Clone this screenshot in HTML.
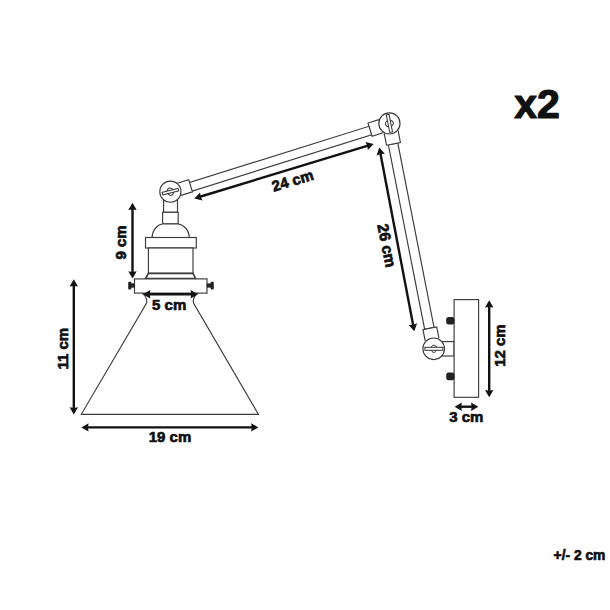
<!DOCTYPE html>
<html><head><meta charset="utf-8">
<style>
html,body{margin:0;padding:0;background:#fff;width:610px;height:610px;overflow:hidden}
svg{display:block}
text{font-family:"Liberation Sans",sans-serif;font-weight:bold;fill:#111;stroke:#111;stroke-width:0.7px;stroke-linejoin:round}
</style></head>
<body>
<svg width="610" height="610" viewBox="0 0 610 610">
<defs>
<marker id="ah" viewBox="0 0 10 10" refX="9.5" refY="5" markerWidth="8" markerHeight="9" markerUnits="userSpaceOnUse" orient="auto-start-reverse">
<path d="M0,0 L10,5 L0,10 Z" fill="#111"/>
</marker>
</defs>
<rect width="610" height="610" fill="#fff"/>

<!-- ===== drawing lines ===== -->
<g fill="#fff" stroke="#3a3a3a" stroke-width="1.15">
  <!-- upper arm (A -> B) -->
  <g transform="translate(170.5,191.8) rotate(-17.39)">
    <rect x="20.5" y="-3.2" width="189" height="9"/>
    <path d="M9,-6.2 L21,-6.2 L21,6.6 L9,6.6"/>
    <path d="M220.5,-6.6 L209,-6.6 L209,7.2 L220.5,7.2"/>
  </g>
  <!-- vertical arm (B -> C) -->
  <g transform="translate(389.5,123.2) rotate(78.87)">
    <rect x="21" y="-4.3" width="188" height="9.6"/>
    <path d="M9,-7 L21,-7 L21,7.2 L9,7.2"/>
    <path d="M220.5,-7 L209,-7 L209,7 L220.5,7"/>
  </g>
  <!-- socket -->
  <rect x="163.6" y="200" width="13.9" height="12.3"/>
  <rect x="162.6" y="212.3" width="15.6" height="11.7"/>
  <path d="M152.1,237.7 C152.5,229 158,224.5 163,223.8 L177.5,223.8 C183,224.5 189,229 189.3,237.7 Z"/>
  <rect x="145.5" y="237.5" width="50.8" height="10.5"/>
  <rect x="148.4" y="248" width="44.6" height="25.4"/>
  <path d="M148.4,273.4 L193,273.4 L195.5,278.5 L145.5,278.5 Z" stroke-width="1.6"/>
  <rect x="134.5" y="278.9" width="72.5" height="14.2"/>
  <!-- shade -->
  <path d="M142.2,293.2 C145,295 147.2,298 146.6,303 L81.3,414.3 L258.4,414.3 L193.5,303 C192.8,298 195,295 197.8,293.2" fill="none"/>
  <!-- joints -->
  <circle cx="170.4" cy="191.7" r="10.6"/>
  <circle cx="389.4" cy="123.4" r="10.6"/>
  <!-- bottom joint + wall plate -->
  <rect x="436" y="341.6" width="18.1" height="14.4"/>
  <circle cx="433.7" cy="348.8" r="10.8"/>
  <rect x="454.1" y="299.6" width="24.5" height="97.7"/>
</g>

<!-- screws on socket plate -->
<g fill="#222">
  <rect x="130.5" y="283.4" width="4.2" height="4.2"/>
  <rect x="128.2" y="281.7" width="3.2" height="7.8" rx="1"/>
  <rect x="206.8" y="283.4" width="4.2" height="4.2"/>
  <rect x="210.6" y="281.7" width="3.2" height="7.8" rx="1"/>
  <!-- wall plate screws -->
  <rect x="446.2" y="316.9" width="8.3" height="7.7" rx="2.5"/>
  <rect x="446.2" y="372.5" width="8.3" height="7.7" rx="2.5"/>
</g>

<!-- screw slots -->
<g fill="#fff" stroke="#333" stroke-width="1">
  <g transform="translate(170.4,191.7) rotate(-14)">
    <path d="M-3.6,0 C-2,-5 2,-5 3.6,0 C2,5 -2,5 -3.6,0 Z"/>
    <rect x="-8.2" y="-1.3" width="16.4" height="2.6"/>
  </g>
  <g transform="translate(389.4,123.4) rotate(79)">
    <path d="M-3.8,0 C-2,-5.3 2,-5.3 3.8,0 C2,5.3 -2,5.3 -3.8,0 Z"/>
    <rect x="-9" y="-1.4" width="18" height="2.8"/>
  </g>
  <g transform="translate(433.9,348.8)">
    <path d="M-3.4,0 C-2,-4.8 2,-4.8 3.4,0 C2,4.8 -2,4.8 -3.4,0 Z"/>
    <rect x="-9" y="-1.5" width="18" height="3"/>
  </g>
</g>

<!-- ===== dimension arrows ===== -->
<g stroke="#111" stroke-width="2.4" fill="none">
<line x1="132.5" y1="207.8" x2="132.5" y2="273.5"/>
<line x1="73.8" y1="284.3" x2="73.8" y2="409.5"/>
<line x1="148.0" y1="294.3" x2="192.9" y2="294.3"/>
<line x1="86.3" y1="427.4" x2="253.4" y2="427.4"/>
<line x1="199.1" y1="197.0" x2="368.8" y2="145.4"/>
<line x1="380.2" y1="152.3" x2="413.4" y2="326.4"/>
<line x1="489.2" y1="305.3" x2="489.2" y2="392.3"/>
<line x1="459.6" y1="406.7" x2="473.3" y2="406.7"/>
</g>
<g fill="#111" stroke="none">
<path d="M132.5,202.8 L128.3,210.1 L132.5,209.4 L136.7,210.1 Z"/>
<path d="M132.5,278.5 L128.3,271.2 L132.5,271.9 L136.7,271.2 Z"/>
<path d="M73.8,279.3 L69.6,286.6 L73.8,285.9 L78.0,286.6 Z"/>
<path d="M73.8,414.5 L69.6,407.2 L73.8,407.9 L78.0,407.2 Z"/>
<path d="M143.0,294.3 L150.3,298.5 L149.6,294.3 L150.3,290.1 Z"/>
<path d="M197.9,294.3 L190.6,298.5 L191.3,294.3 L190.6,290.1 Z"/>
<path d="M81.3,427.4 L88.6,431.6 L87.9,427.4 L88.6,423.2 Z"/>
<path d="M258.4,427.4 L251.1,431.6 L251.8,427.4 L251.1,423.2 Z"/>
<path d="M194.3,198.5 L202.5,200.4 L200.6,196.6 L200.1,192.4 Z"/>
<path d="M373.6,143.9 L367.8,150.0 L367.3,145.8 L365.4,142.0 Z"/>
<path d="M379.3,147.4 L376.5,155.4 L380.5,153.9 L384.8,153.8 Z"/>
<path d="M414.3,331.3 L408.8,324.9 L413.1,324.8 L417.1,323.3 Z"/>
<path d="M489.2,300.3 L485.0,307.6 L489.2,306.9 L493.4,307.6 Z"/>
<path d="M489.2,397.3 L485.0,390.0 L489.2,390.7 L493.4,390.0 Z"/>
<path d="M454.6,406.7 L461.9,410.9 L461.2,406.7 L461.9,402.5 Z"/>
<path d="M478.3,406.7 L471.0,410.9 L471.7,406.7 L471.0,402.5 Z"/>
</g>

<!-- ===== text ===== -->
<text x="537" y="117.5" font-size="41" text-anchor="middle" style="stroke-width:1.2px">x2</text>
<text font-size="15" text-anchor="middle" transform="translate(120.5,242.5) rotate(-90)" y="5.3">9 cm</text>
<text font-size="15" text-anchor="middle" transform="translate(62.9,348.7) rotate(-90)" y="5.3">11 cm</text>
<text font-size="15" text-anchor="middle" x="169.2" y="309.5">5 cm</text>
<text font-size="15" text-anchor="middle" x="170" y="442">19 cm</text>
<text font-size="15" text-anchor="middle" transform="translate(292.5,180.5) rotate(-17)" y="5.3">24 cm</text>
<text font-size="15.5" text-anchor="middle" transform="translate(387,245.5) rotate(78.9)" y="5.5">26 cm</text>
<text font-size="15" text-anchor="middle" transform="translate(499.4,345.6) rotate(-90)" y="5.3">12 cm</text>
<text font-size="15" text-anchor="middle" x="466.3" y="422.4">3 cm</text>
<text font-size="13.8" text-anchor="middle" x="579.5" y="560">+/- 2 cm</text>
</svg>
</body></html>
